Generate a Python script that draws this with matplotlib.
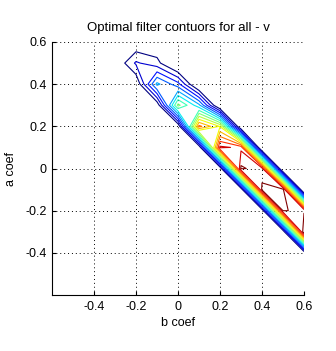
import numpy as np
import matplotlib
matplotlib.use('Agg')
import matplotlib.pyplot as plt

plt.rcParams['font.family'] = ['Liberation Sans', 'DejaVu Sans']
plt.rcParams['axes.unicode_minus'] = False

# grid of filter coefficients
b_coef = [-0.6, -0.5, -0.4, -0.3, -0.2, -0.1, 0.0, 0.1, 0.2, 0.3, 0.4, 0.5, 0.6]
a_coef = [0.6, 0.5, 0.4, 0.3, 0.2, 0.1, 0.0, -0.1, -0.2, -0.3, -0.4, -0.5, -0.6]

# performance (rows follow a_coef, columns b_coef)
perf = [
    [0, 0, 0, 0, 0,     0,     0,     0,     0,     0,     0,     0,     0],
    [0, 0, 0, 0, 0.135, 0.085, -0.05, 0,     0,     0,     0,     0,     0],
    [0, 0, 0, 0, 0,     0.33,  0.21,  -0.05, 0,     0,     0,     0,     0],
    [0, 0, 0, 0, 0,     0.01,  0.52,  0.33,  -0.05, 0,     0,     0,     0],
    [0, 0, 0, 0, 0,     0,     0,     0.77,  0.62,  -0.05, 0,     0,     0],
    [0, 0, 0, 0, 0,     0,     0,     0,     0.89,  0.86,  -0.1,  0,     0],
    [0, 0, 0, 0, 0,     0,     0,     0,     0,     0.95,  0.9,   -0.1,  0],
    [0, 0, 0, 0, 0,     0,     0,     0,     0,     0,     0.955, 0.96,  -0.1],
    [0, 0, 0, 0, 0,     0,     0,     0,     0,     0,     0,     0.94,  0.93],
    [0, 0, 0, 0, 0,     0,     0,     0,     0,     0,     0,     0,     1.0],
    [0, 0, 0, 0, 0,     0,     0,     0,     0,     0,     0,     0,     0],
    [0, 0, 0, 0, 0,     0,     0,     0,     0,     0,     0,     0,     0],
    [0, 0, 0, 0, 0,     0,     0,     0,     0,     0,     0,     0,     0],
]
n_levels = 15
ticks = [-0.4, -0.2, 0, 0.2, 0.4, 0.6]
tick_labels = ['-0.4', '-0.2', '0', '0.2', '0.4', '0.6']

levels = np.arange(1, n_levels + 1) / (n_levels + 1.0)
B, A = np.meshgrid(b_coef, a_coef)
Z = np.array(perf)

fig = plt.figure(figsize=(3.36, 3.51), dpi=100)
ax = fig.add_axes([52/336., 56/351., 252/336., 253/351.])
ax.contour(B, A, Z, levels=levels, cmap='jet', linewidths=0.8)

ax.set_xlim(-0.6, 0.6)
ax.set_ylim(-0.6, 0.6)
ax.set_xticks(ticks)
ax.set_xticklabels(tick_labels)
ax.set_yticks(ticks)
ax.set_yticklabels(tick_labels)
ax.tick_params(direction='in', length=3, labelsize=9, pad=4, top=False, right=False)
ax.grid(True, linestyle=(0, (1, 3)), color='k', lw=0.7)
for side in ['top', 'right']:
    ax.spines[side].set_visible(False)
ax.set_xlabel('b coef', fontsize=9, labelpad=3)
ax.set_ylabel('a coef', fontsize=9, labelpad=6)
ax.set_title('Optimal filter contuors for all - v', fontsize=9.5, pad=8)

fig.savefig('out.png', dpi=100)
